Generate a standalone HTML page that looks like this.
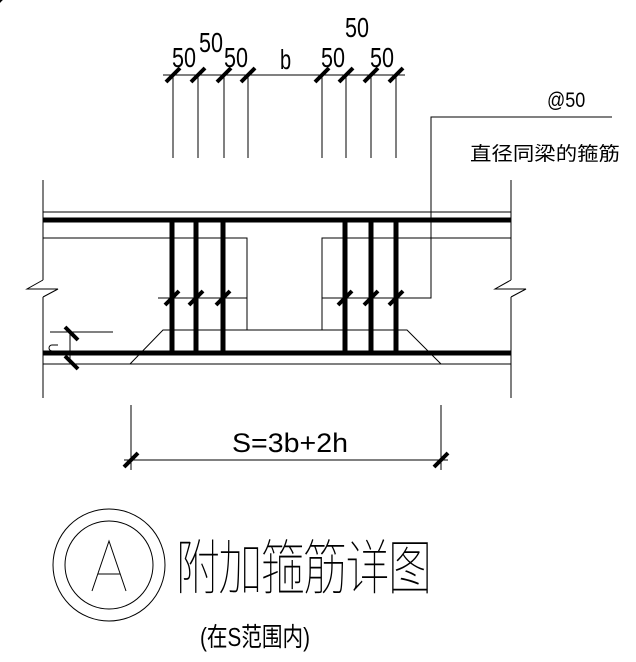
<!DOCTYPE html>
<html><head><meta charset="utf-8"><style>
body{margin:0;background:#fff}
svg{display:block}
text{font-family:"Liberation Sans Narrow","Liberation Sans","Noto Sans CJK SC",sans-serif;fill:#000}
</style></head><body>
<svg width="636" height="662" viewBox="0 0 636 662" xmlns="http://www.w3.org/2000/svg">
<g stroke="#000" stroke-width="1" fill="none">
<line x1="163" y1="75" x2="405" y2="75"/>
<line x1="173" y1="75" x2="173" y2="158"/><line x1="198" y1="75" x2="198" y2="158"/>
<line x1="224" y1="75" x2="224" y2="158"/><line x1="248" y1="75" x2="248" y2="158"/>
<line x1="322" y1="75" x2="322" y2="158"/><line x1="346" y1="75" x2="346" y2="158"/>
<line x1="371" y1="75" x2="371" y2="158"/><line x1="396" y1="75" x2="396" y2="158"/>
<line x1="43" y1="180" x2="43" y2="280"/>
<polyline points="43,280 27,289 58,289 43,297"/>
<line x1="43" y1="297" x2="43" y2="398"/>
<line x1="511" y1="180" x2="511" y2="280"/>
<polyline points="511,280 495,289 526,289 511,297"/>
<line x1="511" y1="297" x2="511" y2="398"/>
<line x1="43" y1="212" x2="511" y2="212"/>
<line x1="43" y1="364" x2="511" y2="364"/>
<polyline points="43,238 247,238 247,330"/>
<polyline points="322,330 322,238 511,238"/>
<line x1="158" y1="298" x2="247" y2="298"/>
<polyline points="322,298 431,298 431,117 612,117"/>
<polyline points="130,364 163,330 407,330 441,364"/>
<line x1="50" y1="332" x2="113" y2="332"/>
<line x1="70" y1="332" x2="70" y2="362"/>
<path d="M58,345 h-6 a3,3 0 0 0 0,6"/>
<line x1="131" y1="405" x2="131" y2="470"/>
<line x1="441" y1="405" x2="441" y2="470"/>
<line x1="124" y1="460" x2="448" y2="460"/>
<circle cx="109" cy="565" r="56"/>
<circle cx="109" cy="565" r="44"/>
<polyline points="92,591 109,541 126,591"/>
<line x1="98" y1="574" x2="120" y2="574"/>
</g>
<g stroke="#000" stroke-width="5">
<line x1="43" y1="220" x2="511" y2="220"/>
<line x1="43" y1="353" x2="511" y2="353"/>
<line x1="172" y1="220" x2="172" y2="353"/><line x1="196" y1="220" x2="196" y2="353"/><line x1="223" y1="220" x2="223" y2="353"/>
<line x1="345" y1="220" x2="345" y2="353"/><line x1="371" y1="220" x2="371" y2="353"/><line x1="396" y1="220" x2="396" y2="353"/>
</g>
<g stroke="#000" stroke-width="4">
<g id="t"><line x1="-7" y1="7" x2="7" y2="-7"/></g>
<use href="#t" x="173" y="75"/><use href="#t" x="198" y="75"/><use href="#t" x="224" y="75"/><use href="#t" x="248" y="75"/>
<use href="#t" x="322" y="75"/><use href="#t" x="346" y="75"/><use href="#t" x="371" y="75"/><use href="#t" x="396" y="75"/>
<use href="#t" x="172" y="298"/><use href="#t" x="196" y="298"/><use href="#t" x="223" y="298"/>
<use href="#t" x="345" y="298"/><use href="#t" x="371" y="298"/><use href="#t" x="396" y="298"/>
<use href="#t" x="131" y="460"/><use href="#t" x="441" y="460"/>
<line x1="65" y1="327" x2="78" y2="340"/>
<line x1="65" y1="356" x2="78" y2="369"/>
</g>
<g font-size="20">
<text transform="translate(172,67) scale(1,1.4)" textLength="24" lengthAdjust="spacingAndGlyphs">50</text>
<text transform="translate(199,52) scale(1,1.4)" textLength="24" lengthAdjust="spacingAndGlyphs">50</text>
<text transform="translate(224,67) scale(1,1.4)" textLength="24" lengthAdjust="spacingAndGlyphs">50</text>
<text transform="translate(280,69) scale(1,1.4)">b</text>
<text transform="translate(321,67) scale(1,1.4)" textLength="24" lengthAdjust="spacingAndGlyphs">50</text>
<text transform="translate(345,37) scale(1,1.4)" textLength="24" lengthAdjust="spacingAndGlyphs">50</text>
<text transform="translate(370,67) scale(1,1.4)" textLength="24" lengthAdjust="spacingAndGlyphs">50</text>
<text transform="translate(547,107) scale(1,1.2)" font-size="18">@50</text>
<text x="470" y="160" font-size="19" textLength="150" lengthAdjust="spacingAndGlyphs">直径同梁的箍筋</text>
<text transform="translate(232,452) scale(1,1.35)" font-size="20" textLength="116" lengthAdjust="spacingAndGlyphs">S=3b+2h</text>
</g>
<text x="0" y="0" font-size="44" transform="translate(176,589) scale(1,1.35)" font-weight="100" textLength="256" lengthAdjust="spacing">附加箍筋详图</text>
<text x="0" y="0" font-size="18" transform="translate(200,646) scale(1,1.45)" textLength="110" lengthAdjust="spacingAndGlyphs">(在S范围内)</text>
</svg>
</body></html>
